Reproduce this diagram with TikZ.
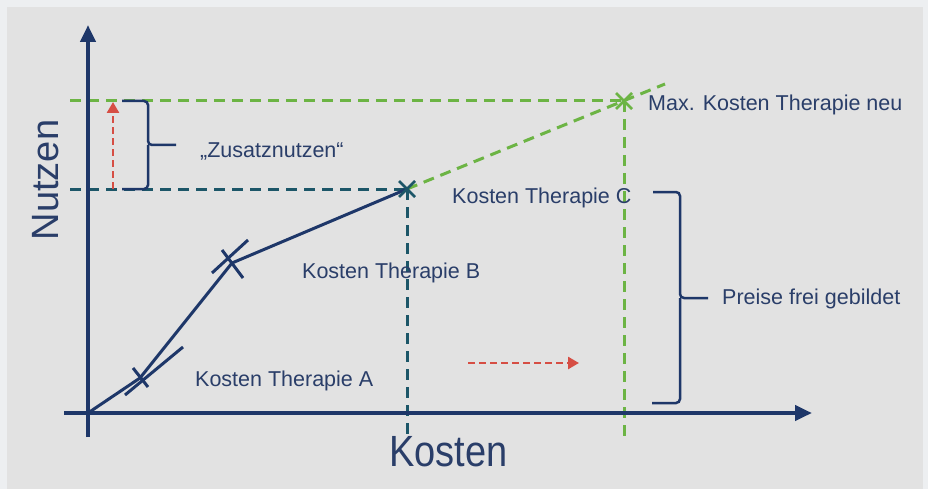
\documentclass[tikz,border=0pt]{standalone}
\usepackage{fontspec}
\setmainfont{Liberation Sans}
\usetikzlibrary{arrows.meta,calc}
\definecolor{outerbg}{RGB}{237,239,241}
\definecolor{innerbg}{RGB}{226,226,226}
\definecolor{navy}{RGB}{30,55,105}
\definecolor{txt}{RGB}{42,62,105}
\definecolor{grn}{RGB}{108,180,68}
\definecolor{teal}{RGB}{28,86,104}
\definecolor{redd}{RGB}{214,78,68}
\tikzset{
  axis/.style={draw=navy, line width=4.5pt, -{Triangle[length=17pt,width=15pt]}},
  curve/.style={draw=navy, line width=3pt},
  tick/.style={draw=navy, line width=3pt},
  gdash/.style={draw=grn, line width=3pt, dash pattern=on 11pt off 7pt},
  tdash/.style={draw=teal, line width=3pt, dash pattern=on 11pt off 7pt},
  rdash/.style={draw=redd, line width=2.6pt, dash pattern=on 7pt off 4pt, -{Triangle[length=11pt,width=12pt]}},
  brace/.style={draw=navy, line width=2.5pt, rounded corners=4pt},
  lbl/.style={text=txt, anchor=west, inner sep=0pt, font=\fontsize{21.5}{24}\selectfont},
  biglbl/.style={text=txt, inner sep=0pt, font=\fontsize{38}{42}\selectfont},
}
\begin{document}
\begin{tikzpicture}[x=1pt,y=-1pt]
\useasboundingbox (0,0) rectangle (928,489);
\fill[outerbg] (0,0) rectangle (928,489);
\fill[innerbg] (7,7) rectangle (923,489);

% key points
\coordinate (O) at (88,413);
\coordinate (A) at (140,378);
\coordinate (B) at (232,263);
\coordinate (C) at (407,189);
\coordinate (N) at (624,101);
\coordinate (Cbot) at (407,437);
\coordinate (Nbot) at (624,437);
\coordinate (Nend) at (665,84);
\coordinate (hT) at (70,189);
\coordinate (hG) at (70,101);

% dashed guide lines
\draw[gdash] (hG) -- (N);
\draw[gdash] (N) -- (Nbot);
\draw[gdash] (C) -- (Nend);
\draw[tdash] (hT) -- (C);
\draw[tdash] (C) -- (Cbot);

% axes
\coordinate (xs) at (64,413);
\coordinate (xe) at (812,413);
\coordinate (ys) at (88,437);
\coordinate (ye) at (88,25);
\draw[axis] (xs) -- (xe);
\draw[axis] (ys) -- (ye);

% curve
\draw[curve] (O) -- (A) -- (B) -- (C);

% crosses
\coordinate (a1) at (125,395); \coordinate (a2) at (183,347);
\coordinate (a3) at (133,368); \coordinate (a4) at (148,387);
\draw[tick] (a1) -- (a2);
\draw[tick] (a3) -- (a4);
\coordinate (b1) at (212,273); \coordinate (b2) at (248,240);
\coordinate (b3) at (222,250); \coordinate (b4) at (243,278);
\draw[tick] (b1) -- (b2);
\draw[tick] (b3) -- (b4);
\draw[draw=teal, line width=2.8pt] ($(C)+(-8,-8)$) -- ($(C)+(8,8)$);
\draw[draw=teal, line width=2.8pt] ($(C)+(-8,8)$) -- ($(C)+(8,-8)$);
\draw[draw=grn, line width=2.8pt] ($(N)+(-8,-8)$) -- ($(N)+(8,8)$);
\draw[draw=grn, line width=2.8pt] ($(N)+(-8,8)$) -- ($(N)+(8,-8)$);

% red arrows
\coordinate (r1) at (113,189); \coordinate (r2) at (113,102);
\draw[rdash] (r1) -- (r2);
\coordinate (r3) at (468,363); \coordinate (r4) at (579,363);
\draw[rdash] (r3) -- (r4);

% braces
\draw[brace] (122,101) -- (148,101) -- (148,145) -- (176,145);
\draw[brace] (122,189) -- (148,189) -- (148,145);
\draw[brace] (653,192) -- (680,192) -- (680,298) -- (708,298);
\draw[brace] (652,403) -- (680,403) -- (680,298);

% labels
\node[lbl] (lz) at (200,151) {„Zusatznutzen“};
\node[lbl] (la) at (195,381) {Kosten Therapie A};
\node[lbl] (lb) at (302,273) {Kosten Therapie B};
\node[lbl] (lc) at (452,198) {Kosten Therapie C};
\node[lbl] (ln) at (648,105) {Max. Kosten Therapie neu};
\node[lbl] (lp) at (722,299) {Preise frei gebildet};
\node[biglbl, anchor=west] (lk) at (389,452) {\scalebox{1}[1.15]{Kosten}};
\node[biglbl, rotate=90] (lnu) at (46,180) {Nutzen};
\end{tikzpicture}
\end{document}
